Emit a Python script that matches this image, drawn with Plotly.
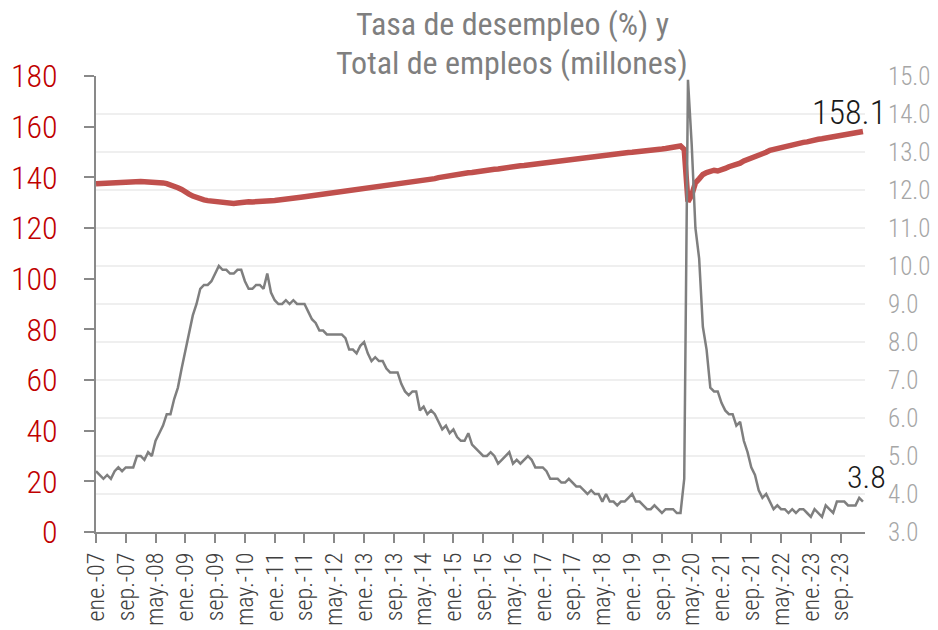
import plotly.graph_objects as go

# Monthly data, Jan 2007 - Mar 2024
unemployment_rate = [
    4.6, 4.5, 4.4, 4.5, 4.4, 4.6, 4.7, 4.6, 4.7, 4.7, 4.7, 5.0,   # 2007
    5.0, 4.9, 5.1, 5.0, 5.4, 5.6, 5.8, 6.1, 6.1, 6.5, 6.8, 7.3,   # 2008
    7.8, 8.3, 8.7, 9.0, 9.4, 9.5, 9.5, 9.6, 9.8, 10.0, 9.9, 9.9,  # 2009
    9.8, 9.8, 9.9, 9.9, 9.6, 9.4, 9.4, 9.5, 9.5, 9.4, 9.8, 9.3,   # 2010
    9.1, 9.0, 9.0, 9.1, 9.0, 9.1, 9.0, 9.0, 9.0, 8.8, 8.6, 8.5,   # 2011
    8.3, 8.3, 8.2, 8.2, 8.2, 8.2, 8.2, 8.1, 7.8, 7.8, 7.7, 7.9,   # 2012
    8.0, 7.7, 7.5, 7.6, 7.5, 7.5, 7.3, 7.2, 7.2, 7.2, 6.9, 6.7,   # 2013
    6.6, 6.7, 6.7, 6.2, 6.3, 6.1, 6.2, 6.1, 5.9, 5.7, 5.8, 5.6,   # 2014
    5.7, 5.5, 5.4, 5.4, 5.6, 5.3, 5.2, 5.1, 5.0, 5.0, 5.1, 5.0,   # 2015
    4.8, 4.9, 5.0, 5.1, 4.8, 4.9, 4.8, 4.9, 5.0, 4.9, 4.7, 4.7,   # 2016
    4.7, 4.6, 4.4, 4.4, 4.4, 4.3, 4.3, 4.4, 4.3, 4.2, 4.2, 4.1,   # 2017
    4.0, 4.1, 4.0, 4.0, 3.8, 4.0, 3.8, 3.8, 3.7, 3.8, 3.8, 3.9,   # 2018
    4.0, 3.8, 3.8, 3.7, 3.6, 3.6, 3.7, 3.6, 3.5, 3.6, 3.6, 3.6,   # 2019
    3.5, 3.5, 4.4, 14.9, 13.2, 11.0, 10.2, 8.4, 7.8, 6.8, 6.7, 6.7,  # 2020
    6.4, 6.2, 6.1, 6.1, 5.8, 5.9, 5.4, 5.1, 4.7, 4.5, 4.1, 3.9,   # 2021
    4.0, 3.8, 3.6, 3.7, 3.6, 3.6, 3.5, 3.6, 3.5, 3.6, 3.6, 3.5,   # 2022
    3.4, 3.6, 3.5, 3.4, 3.7, 3.6, 3.5, 3.8, 3.8, 3.8, 3.7, 3.7,   # 2023
    3.7, 3.9, 3.8,                                                # 2024
]

total_employment = [
    137.5, 137.6, 137.8, 137.9, 138.0, 138.1, 138.1, 138.0, 138.1, 138.1, 138.2, 138.3,  # 2007
    138.4, 138.3, 138.3, 138.1, 138.0, 137.8, 137.8, 137.5, 137.1, 136.6, 135.9, 135.2,  # 2008
    134.1, 133.4, 132.6, 131.9, 131.6, 131.1, 130.8, 130.6, 130.3, 130.1, 130.1, 129.8,  # 2009
    129.8, 129.7, 129.9, 130.1, 130.6, 130.4, 130.3, 130.3, 130.3, 130.5, 130.6, 130.8,  # 2010
    130.9, 131.0, 131.3, 131.6, 131.7, 131.9, 132.0, 132.1, 132.3, 132.5, 132.7, 132.9,  # 2011
    133.2, 133.4, 133.6, 133.7, 133.8, 133.9, 134.1, 134.3, 134.5, 134.6, 134.9, 135.2,  # 2012
    135.4, 135.7, 135.8, 136.0, 136.3, 136.4, 136.5, 136.8, 137.0, 137.2, 137.5, 137.6,  # 2013
    137.8, 138.0, 138.3, 138.6, 138.8, 139.1, 139.3, 139.5, 139.9, 140.2, 140.4, 140.7,  # 2014
    140.8, 141.1, 141.2, 141.5, 141.8, 141.9, 142.2, 142.3, 142.4, 142.6, 142.9, 143.2,  # 2015
    143.3, 143.6, 143.8, 143.9, 144.0, 144.3, 144.6, 144.7, 144.9, 145.0, 145.2, 145.5,  # 2016
    145.7, 145.9, 146.0, 146.2, 146.4, 146.6, 146.8, 146.9, 146.9, 147.2, 147.4, 147.6,  # 2017
    147.7, 148.0, 148.2, 148.4, 148.7, 148.9, 148.9, 149.2, 149.3, 149.4, 149.6, 149.8,  # 2018
    149.9, 150.0, 150.2, 150.4, 150.5, 150.7, 150.8, 151.0, 151.2, 151.4, 151.6, 151.8,  # 2019
    152.1, 152.4, 151.0, 130.4, 133.0, 137.8, 139.4, 141.1, 141.9, 142.5, 142.8, 142.5,  # 2020
    142.8, 143.5, 144.2, 144.5, 145.0, 145.6, 146.5, 147.0, 147.5, 148.2, 148.9, 149.5,  # 2021
    149.9, 150.7, 151.1, 151.4, 151.8, 152.2, 152.7, 152.9, 153.3, 153.6, 153.8, 154.0,  # 2022
    154.5, 154.8, 155.0, 155.2, 155.5, 155.7, 155.9, 156.1, 156.4, 156.6, 156.8, 157.1,  # 2023
    157.4, 157.8, 158.1,                                                                 # 2024
]

tick_labels = [
    "ene.-07", "sep.-07", "may.-08", "ene.-09", "sep.-09", "may.-10", "ene.-11",
    "sep.-11", "may.-12", "ene.-13", "sep.-13", "may.-14", "ene.-15", "sep.-15",
    "may.-16", "ene.-17", "sep.-17", "may.-18", "ene.-19", "sep.-19", "may.-20",
    "ene.-21", "sep.-21", "may.-22", "ene.-23", "sep.-23",
]
tick_step_months = 8

title_lines = ["Tasa de desempleo (%) y", "Total de empleos (millones)"]
last_employment_label = "158.1"
last_rate_label = "3.8"

months = list(range(len(unemployment_rate)))
tick_positions = [i * tick_step_months for i in range(len(tick_labels))]

FONT = "Roboto Condensed, Liberation Sans Narrow, Roboto, sans-serif"
AXIS_GRAY = "#898989"

# plot area in window pixels (body margin removed below)
W, H = 938, 630
PL, PR, PT, PB = 96, 865, 76, 532

fig = go.Figure()
fig.add_trace(go.Scatter(
    x=months, y=total_employment, mode="lines", yaxis="y",
    line=dict(color="#C0504D", width=5.5), name="Total de empleos",
    hoverinfo="skip",
))
fig.add_trace(go.Scatter(
    x=months, y=unemployment_rate, mode="lines", yaxis="y2",
    line=dict(color="#7F7F7F", width=2.5), name="Tasa de desempleo",
    hoverinfo="skip",
))


def px_to_paper_x(px):
    return (px - PL) / (PR - PL)


def px_to_paper_y(py):
    return (PB - py) / (PB - PT)


title_annotations = [
    dict(text=line, xref="paper", yref="paper",
         x=px_to_paper_x(512), y=px_to_paper_y(center_y), xanchor="center", yanchor="middle",
         showarrow=False, align="center", borderpad=0,
         font=dict(size=32, color="#7F7F7F", family=FONT))
    for line, center_y in zip(title_lines, [24, 63])
]

fig.update_layout(
    width=W, height=H,
    margin=dict(l=PL, r=W - PR, t=PT, b=H - PB),
    paper_bgcolor="white", plot_bgcolor="white",
    showlegend=False,
    font=dict(family=FONT),
    xaxis=dict(
        range=[0, len(months) - 1 + 0.55], automargin=False,
        tickmode="array", tickvals=tick_positions, ticktext=tick_labels,
        tickangle=-90, tickfont=dict(size=24, color="#404040", family=FONT, weight=300),
        ticks="outside", ticklen=9, tickwidth=2, tickcolor=AXIS_GRAY,
        showline=True, linecolor=AXIS_GRAY, linewidth=2,
        showgrid=False, zeroline=False,
    ),
    yaxis=dict(
        range=[0, 180], dtick=20, tick0=0, automargin=False,
        tickfont=dict(size=32, color="#C00000", family=FONT, weight=300),
        ticks="outside", ticklen=10, tickwidth=2, tickcolor=AXIS_GRAY,
        showline=True, linecolor=AXIS_GRAY, linewidth=2,
        showgrid=False, zeroline=False, ticklabelstandoff=20,
    ),
    yaxis2=dict(
        range=[3, 15], dtick=1, tick0=3, tickformat=".1f", automargin=False,
        overlaying="y", side="right",
        tickfont=dict(size=25, color="#A6A6A6", family=FONT, weight=300),
        ticks="", showline=False,
        showgrid=True, gridcolor="#EFEFEF", gridwidth=2,
        zeroline=False, ticklabelstandoff=22,
    ),
    annotations=title_annotations + [
        dict(text=last_employment_label, xref="paper", yref="paper",
             x=px_to_paper_x(888), y=px_to_paper_y(112), xanchor="right", yanchor="middle",
             showarrow=False, font=dict(size=34, color="#1A1A1A", family=FONT, weight=300)),
        dict(text=last_rate_label, xref="paper", yref="paper",
             x=px_to_paper_x(888), y=px_to_paper_y(477), xanchor="right", yanchor="middle",
             showarrow=False, font=dict(size=32, color="#1A1A1A", family=FONT, weight=300)),
    ],
)

fig.write_html(
    "out.html",
    config={"displayModeBar": False},
    post_script="document.body.style.margin='0';document.body.style.padding='0';",
)
